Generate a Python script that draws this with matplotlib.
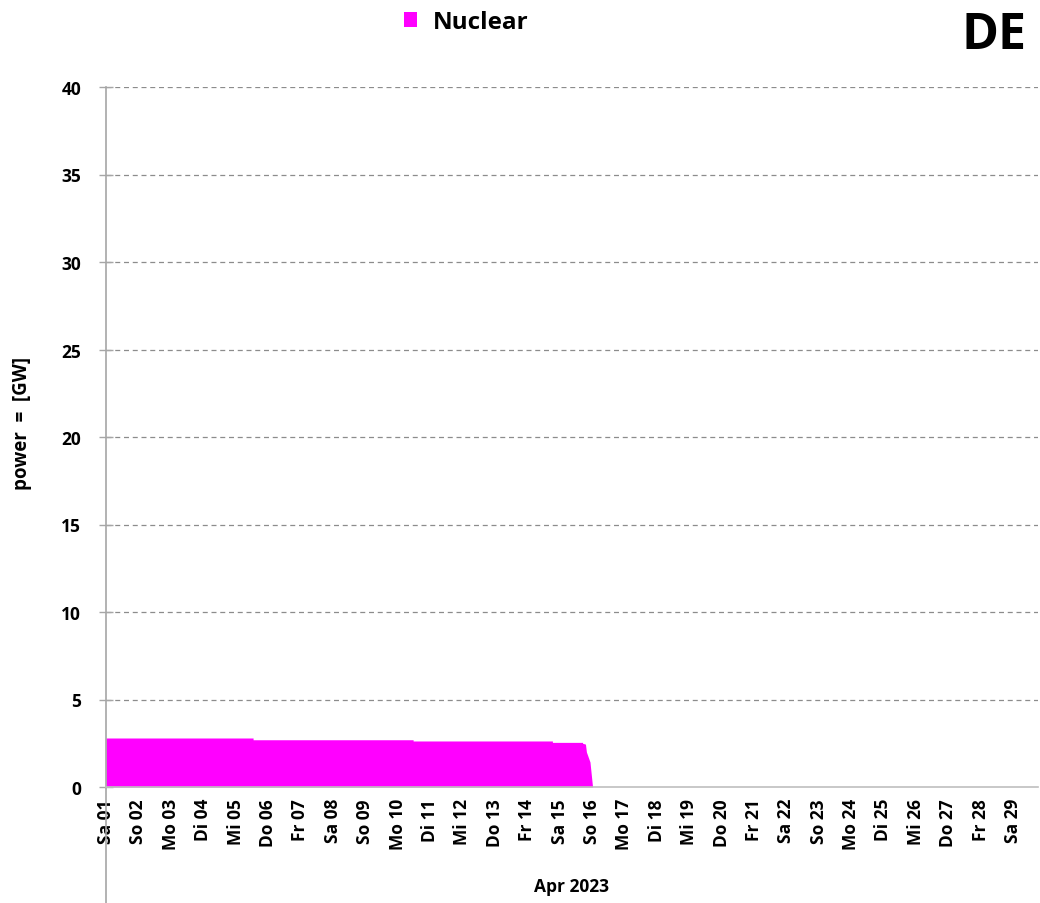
import matplotlib
matplotlib.use("Agg")
import matplotlib.pyplot as plt
from matplotlib.lines import Line2D

plt.rcParams['font.family'] = ['Open Sans', 'DejaVu Sans']
plt.rcParams['font.weight'] = 'bold'

# data: time in days since 2023-04-01 00:00, power in GW
time_days = [0.0, 4.54, 4.54, 9.48, 9.48, 13.78, 13.78, 14.71, 14.71, 14.80, 14.83, 14.94, 15.02]
nuclear_gw = [2.80, 2.80, 2.70, 2.70, 2.63, 2.63, 2.55, 2.55, 2.50, 2.45, 2.00, 1.43, 0.00]

weekdays = ['Sa', 'So', 'Mo', 'Di', 'Mi', 'Do', 'Fr']
day_numbers = list(range(1, 30))
tick_labels = [f"{weekdays[(d - 1) % 7]} {d:02d}" for d in day_numbers]
y_ticks = [0, 5, 10, 15, 20, 25, 30, 35, 40]

fig = plt.figure(figsize=(10.4, 9.04), dpi=100)
ax = fig.add_axes([106/1040, (904-788)/904, (1038-106)/1040, 700/904])

ax.fill_between(time_days, nuclear_gw, 0, color='#ff00ff', linewidth=0, label='Nuclear')

ax.set_xlim(0, 28.77)
ax.set_ylim(0, 40)
ax.set_yticks(y_ticks)
ax.set_yticklabels([str(v) for v in y_ticks], fontsize=12.5, fontweight='bold')
ax.set_xticks([d - 1 for d in day_numbers])
ax.set_xticklabels(tick_labels, rotation=90, fontsize=12.5, fontweight='bold')
ax.tick_params(axis='x', length=0, pad=8)
ax.tick_params(axis='y', length=10, direction='inout', color='#a6a6a6', width=1, pad=13)

for v in y_ticks[1:]:
    ax.axhline(v, color='#8c8c8c', linestyle=(0, (4, 3)), linewidth=0.9, zorder=0)

for s in ['top', 'right']:
    ax.spines[s].set_visible(False)
ax.spines['bottom'].set_color('#bfbfbf')
ax.spines['bottom'].set_linewidth(1.2)
ax.spines['left'].set_visible(False)
# extended vertical axis line (to bottom of figure)
ax.add_line(Line2D([0, 0], [-116/700, 1.0], transform=ax.transAxes, color='#a6a6a6',
                   linewidth=1.2, clip_on=False))

ax.set_xlabel('Apr 2023', fontsize=12.5, fontweight='bold', labelpad=20)
fig.text(22/1040, 1 - 423/904, 'power  =  [GW]', rotation=90, ha='center', va='center',
         fontsize=13.5, fontweight='bold')

leg = fig.legend(loc='center', bbox_to_anchor=(466/1040, 1 - 23/904), frameon=False,
                 fontsize=17.5, handlelength=0.55, handleheight=0.55, handletextpad=0.65)
for t in leg.get_texts():
    t.set_fontweight('bold')

fig.text(1026/1040, 1 - 36/904, 'DE', ha='right', va='center', fontsize=36, fontweight='bold')

fig.savefig('out.png', dpi=100)
